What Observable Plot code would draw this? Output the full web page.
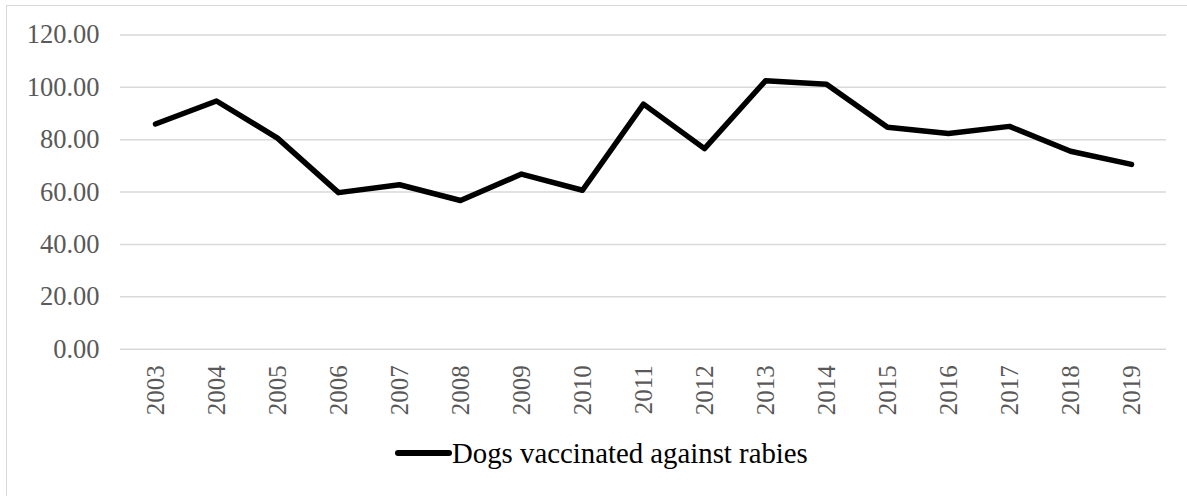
<!DOCTYPE html>
<html>
<head>
<meta charset="utf-8">
<script src="https://cdn.jsdelivr.net/npm/d3@7"></script>
<script src="https://cdn.jsdelivr.net/npm/@observablehq/plot@0.6"></script>
<style>
  html, body { margin: 0; padding: 0; background: #fff; }
  #chart { position: relative; width: 1187px; height: 496px; overflow: hidden; font-family: "Liberation Serif", "Times New Roman", serif; }
  #frame { position: absolute; left: 6px; top: 4.5px; width: 1200px; height: 520px; border: 1.5px solid #d9d9d9; box-sizing: border-box; pointer-events: none; }
  #legend { display: flex; align-items: center; height: 56px; padding-left: 395px; }
  #legend .swatch { width: 57px; height: 5.5px; background: #000; border-radius: 3px; }
  #legend .name { font-size: 28.8px; color: #000; line-height: normal; }
</style>
</head>
<body>
<div id="chart">
  <div id="frame"></div>
</div>
<script>
// Years on the category axis
const years = ["2003","2004","2005","2006","2007","2008","2009","2010","2011","2012","2013","2014","2015","2016","2017","2018","2019"];
// Dogs vaccinated against rabies, one value per year
const vaccinated = [86.0, 94.8, 80.6, 59.8, 62.8, 56.8, 66.9, 60.7, 93.6, 76.6, 102.5, 101.2, 84.8, 82.4, 85.1, 75.6, 70.6];
// Value axis ticks
const yTicks = [0, 20, 40, 60, 80, 100, 120];
const seriesName = "Dogs vaccinated against rabies";

const data = years.map((year, i) => ({year, value: vaccinated[i]}));

const plot = Plot.plot({
  width: 1187,
  height: 425,
  marginLeft: 120,
  marginRight: 21,
  marginTop: 34.5,
  marginBottom: 76.3,
  style: {fontFamily: "'Liberation Serif', 'Times New Roman', serif", background: "transparent", overflow: "visible"},
  x: {type: "point", domain: years, padding: 0.5, label: null},
  y: {domain: [0, 120], label: null},
  marks: [
    Plot.gridY(yTicks, {stroke: "#d9d9d9", strokeOpacity: 1, strokeWidth: 1.5}),
    Plot.axisY(yTicks, {
      tickSize: 0, tickPadding: 21, fontSize: 26.5, color: "#595959",
      tickFormat: d => d.toFixed(2), label: null
    }),
    Plot.axisX({
      tickSize: 0, tickPadding: 16, fontSize: 25, color: "#595959",
      tickRotate: -90, label: null
    }),
    Plot.lineY(data, {
      x: "year", y: "value", stroke: "#000", strokeWidth: 5.5,
      strokeLinejoin: "round", strokeLinecap: "round"
    })
  ]
});

const chart = document.getElementById("chart");
chart.insertBefore(plot, chart.firstChild);

const legend = document.createElement("div");
legend.id = "legend";
legend.innerHTML = `<span class="swatch"></span><span class="name"></span>`;
legend.querySelector(".name").textContent = seriesName;
chart.insertBefore(legend, document.getElementById("frame"));
</script>
</body>
</html>
